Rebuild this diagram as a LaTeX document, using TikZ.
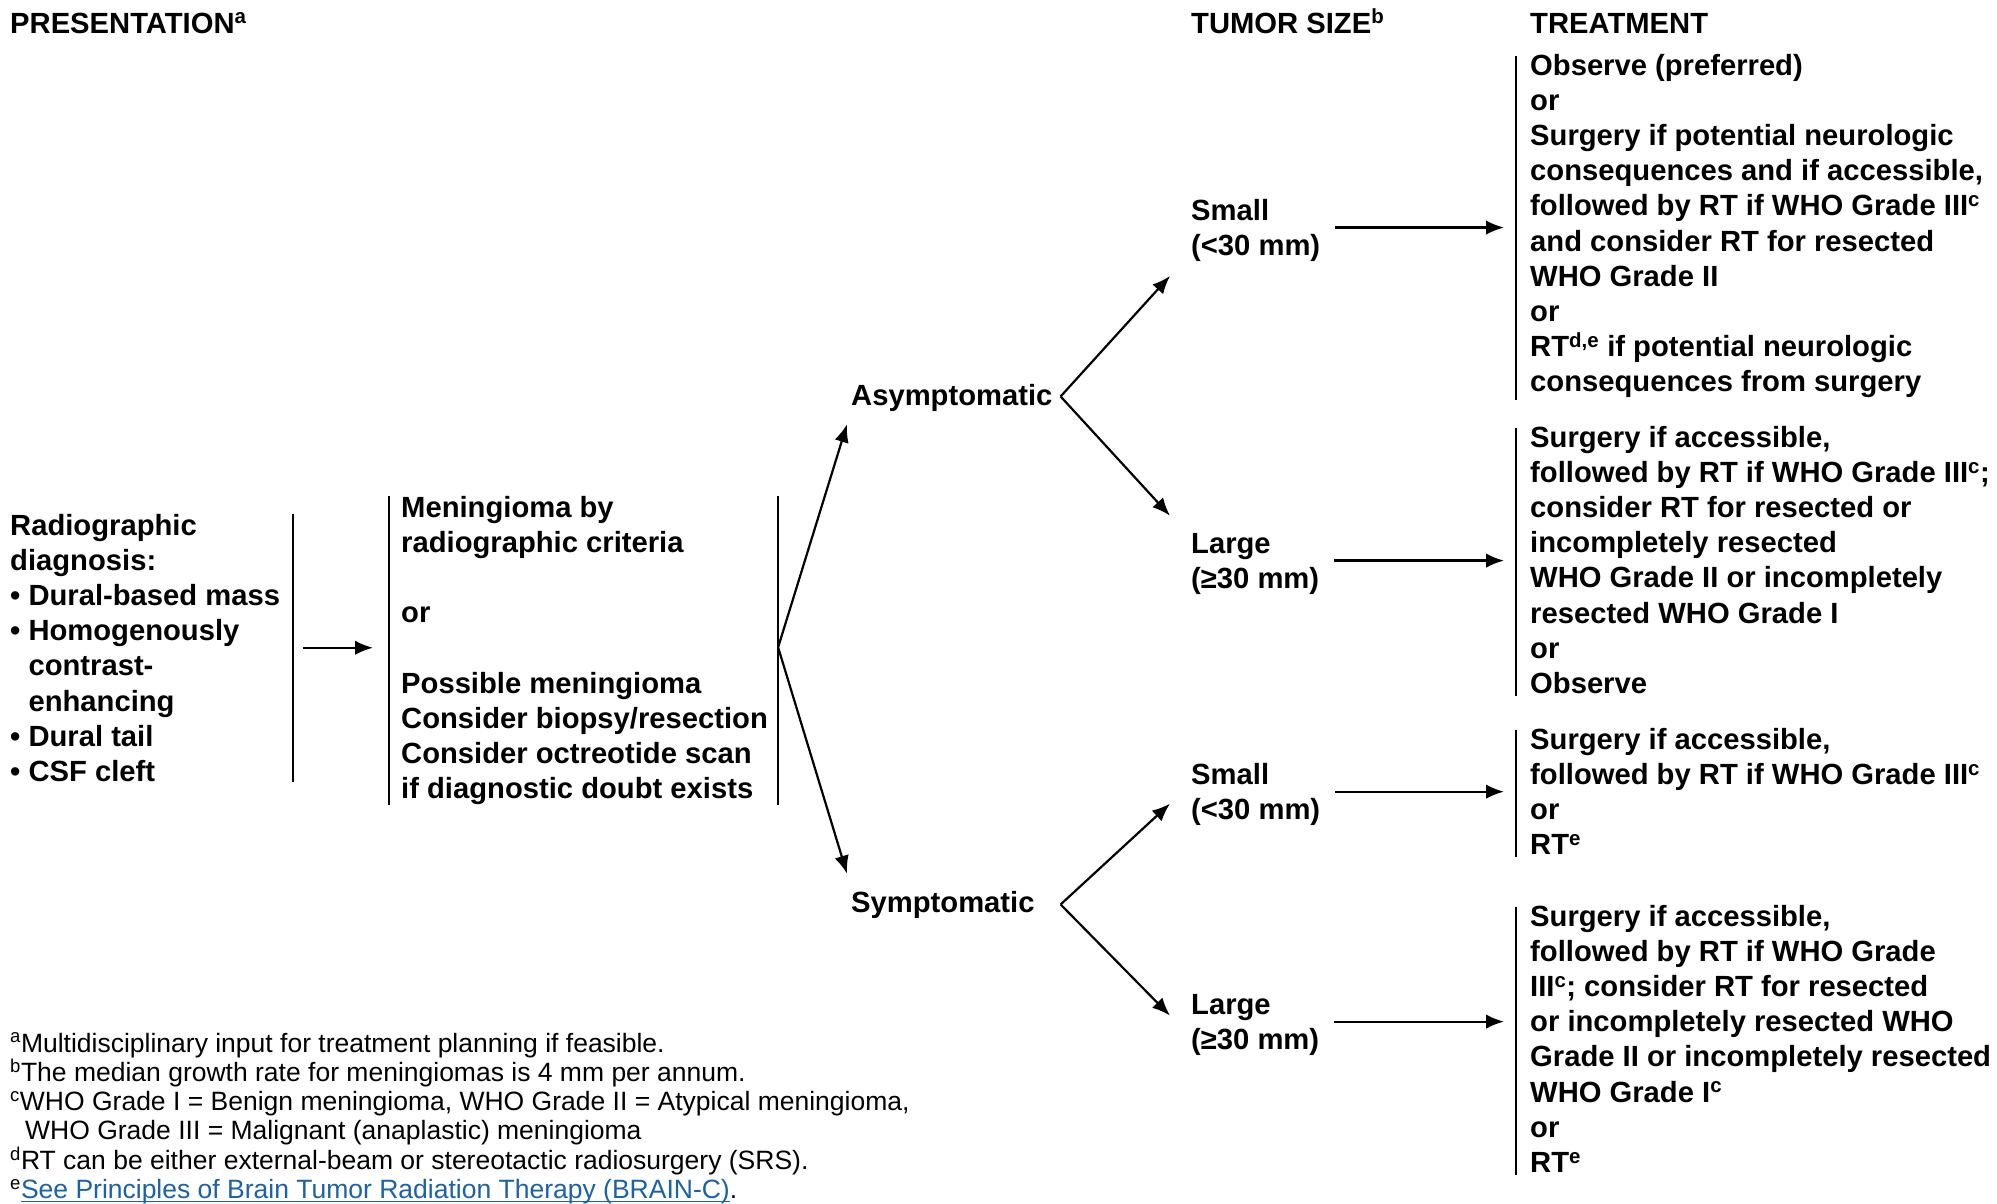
\documentclass[tikz,border=0pt]{standalone}
\usepackage{fontspec}
\setmainfont{Liberation Sans}
\usetikzlibrary{arrows.meta,calc}
\definecolor{linkblue}{RGB}{28,98,168}

% underline set close to the baseline
\newcommand\linkline[1]{\setbox0\hbox{#1}\rlap{\rule[-3.5pt]{\wd0}{1.5pt}}\box0}

% multi-line nodes are anchored at the baseline of their last line
\tikzset{
  lbl/.style={anchor=base west, inner sep=0pt, align=left,
    font=\bfseries\fontsize{29.2}{35.2}\selectfont},
  note/.style={anchor=base west, inner sep=0pt, align=left,
    font=\fontsize{26.5}{29.3}\selectfont},
  bar/.style={line width=2pt},
  arr/.style={line width=2.2pt, -{Latex[length=18pt,width=14.5pt]}},
}

\begin{document}
\begin{tikzpicture}[x=1pt,y=-1pt]
\fill[white] (0,0) rectangle (1997,1203);
\useasboundingbox (0,0) rectangle (1997,1203);

% column headings
\node[lbl] (hpres)  at (10,33)   {PRESENTATION\textsuperscript{a}};
\node[lbl] (hsize)  at (1191,33) {TUMOR SIZE\textsuperscript{b}};
\node[lbl] (htreat) at (1530,33) {TREATMENT};

% presentation
\node[lbl] (pres) at (10,781.4) {Radiographic\\diagnosis:\\
  \textbullet\ Dural-based mass\\
  \textbullet\ Homogenously\\
  \phantom{\textbullet\ }contrast-\\
  \phantom{\textbullet\ }enhancing\\
  \textbullet\ Dural tail\\
  \textbullet\ CSF cleft};
\draw[bar] ($(pres.north east)+(12.5,0)$) -- ($(pres.south east)+(12.5,0)$);

\node[lbl] (crit) at (401,798.6) {Meningioma by\\radiographic criteria\\[35.2pt]
  or\\[35.2pt]
  Possible meningioma\\Consider biopsy/resection\\
  Consider octreotide scan\\if diagnostic doubt exists};
\draw[bar] ($(crit.north west)+(-12.5,0)$) -- ($(crit.south west)+(-12.5,0)$);
\draw[bar] ($(crit.north east)+(10,0)$) -- ($(crit.south east)+(10,0)$);

\draw[arr] ($(pres.east)+(22.5,0)$) -- ($(crit.west |- pres.east)+(-28,0)$);

% symptoms
\node[lbl] (asym) at (851,405) {Asymptomatic};
\node[lbl] (sym)  at (851,912) {Symptomatic};

\coordinate (co) at ($(crit.east)+(10,-3)$);
\draw[arr] (co) -- ($(asym.south west)+(-4,13)$);
\draw[arr] (co) -- ($(sym.north west)+(-4,-17)$);

% tumor size
\node[lbl] (s1) at (1191,255.7)  {Small\\(<30 mm)};
\node[lbl] (l1) at (1191,588.2)  {Large\\(≥30 mm)};
\node[lbl] (s2) at (1191,819.8)  {Small\\(<30 mm)};
\node[lbl] (l2) at (1191,1049.2) {Large\\(≥30 mm)};

\coordinate (av) at ($(asym.east)+(8,-1)$);
\coordinate (sv) at (av |- sym.east);
\draw[arr] (av) -- ($(s1.south west)+(-21,14)$);
\draw[arr] (av) -- ($(l1.north west)+(-21,-17)$);
\draw[arr] (sv) -- ($(s2.west)+(-21,9)$);
\draw[arr] (sv) -- ($(l2.west)+(-21,-9)$);

% treatment
\node[lbl] (t1) at (1530,391.8) {Observe (preferred)\\or\\
  Surgery if potential neurologic\\
  consequences and if accessible,\\
  followed by RT if WHO Grade III\textsuperscript{c}\\
  and consider RT for resected\\
  WHO Grade II\\or\\
  RT\textsuperscript{d,e} if potential neurologic\\
  consequences from surgery};
\node[lbl] (t2) at (1530,693.4) {Surgery if accessible,\\
  followed by RT if WHO Grade III\textsuperscript{c};\\
  consider RT for resected or\\
  incompletely resected\\
  WHO Grade II or incompletely\\
  resected WHO Grade I\\or\\Observe};
\node[lbl] (t3) at (1530,854.6) {Surgery if accessible,\\
  followed by RT if WHO Grade III\textsuperscript{c}\\or\\RT\textsuperscript{e}};
\node[lbl] (t4) at (1530,1172.4) {Surgery if accessible,\\
  followed by RT if WHO Grade\\
  III\textsuperscript{c}; consider RT for resected\\
  or incompletely resected WHO\\
  Grade II or incompletely resected\\
  WHO Grade I\textsuperscript{c}\\or\\RT\textsuperscript{e}};

\foreach \t in {t1,t2,t3,t4}
  \draw[bar] ($(\t.north west)+(-14,2)$) -- ($(\t.south west)+(-14,2)$);

\draw[arr] ($(s1.east)+(15,-3)$) coordinate (s1o) -- ($(t1.west |- s1o)+(-26,0)$);
\draw[arr] ($(l1.east)+(15,-3)$) coordinate (l1o) -- ($(t2.west |- l1o)+(-26,0)$);
\draw[arr] ($(s2.east)+(15,-3)$) coordinate (s2o) -- ($(t3.west |- s2o)+(-26,0)$);
\draw[arr] ($(l2.east)+(15,-3)$) coordinate (l2o) -- ($(t4.west |- l2o)+(-26,0)$);

% footnotes
\node[note] (fn) at (10,1198.5) {\textsuperscript{a}Multidisciplinary input for treatment planning if feasible.\\
  \textsuperscript{b}The median growth rate for meningiomas is 4 mm per annum.\\
  \textsuperscript{c}WHO Grade I = Benign meningioma, WHO Grade II = Atypical meningioma,\\
  \hspace*{15pt}WHO Grade III = Malignant (anaplastic) meningioma\\
  \textsuperscript{d}RT can be either external-beam or stereotactic radiosurgery (SRS).\\
  \textsuperscript{e}{\color{linkblue}\linkline{See Principles of Brain Tumor Radiation Therapy (BRAIN-C)}}.};
\end{tikzpicture}
\end{document}
